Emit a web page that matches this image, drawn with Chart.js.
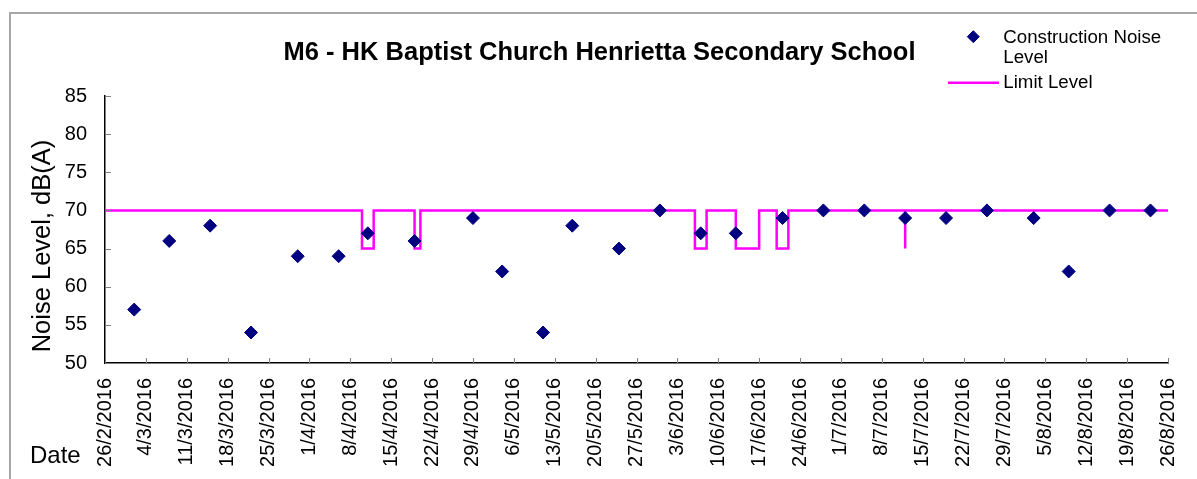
<!DOCTYPE html>
<html><head><meta charset="utf-8">
<script src="https://cdn.jsdelivr.net/npm/chart.js@4.4.0/dist/chart.umd.min.js"></script>
<style>html,body{margin:0;padding:0;background:#fff;overflow:hidden}canvas{display:block}</style>
</head><body>
<canvas id="c" width="1197" height="479"></canvas>
<script>
const titleText = 'M6 - HK Baptist Church Henrietta Secondary School';
const yAxisTitle = 'Noise Level, dB(A)';
const xAxisTitle = 'Date';
const seriesNames = ['Construction Noise', 'Level', 'Limit Level'];

const noiseDates = ['2/3/2016','8/3/2016','15/3/2016','22/3/2016','30/3/2016','6/4/2016','11/4/2016','19/4/2016',
  '29/4/2016','4/5/2016','11/5/2016','16/5/2016','24/5/2016','31/5/2016','7/6/2016','13/6/2016','21/6/2016',
  '28/6/2016','5/7/2016','12/7/2016','19/7/2016','26/7/2016','3/8/2016','9/8/2016','16/8/2016','23/8/2016'];
const noiseLevels = [57,66,68,54,64,64,67,66,69,62,54,68,65,70,67,67,69,70,70,69,69,70,69,62,70,70];

const limitDates = ['26/2/2016','10/4/2016','10/4/2016','12/4/2016','12/4/2016','19/4/2016','19/4/2016','20/4/2016','20/4/2016',
  '6/6/2016','6/6/2016','8/6/2016','8/6/2016','13/6/2016','13/6/2016','17/6/2016','17/6/2016',
  '20/6/2016','20/6/2016','22/6/2016','22/6/2016','12/7/2016','12/7/2016','12/7/2016','26/8/2016'];
const limitLevels = [70,70,65,65,70,70,65,65,70,70,65,65,70,70,65,65,70,70,65,65,70,70,65,70,70];

const tickDates = ['26/2/2016','4/3/2016','11/3/2016','18/3/2016','25/3/2016','1/4/2016','8/4/2016','15/4/2016',
  '22/4/2016','29/4/2016','6/5/2016','13/5/2016','20/5/2016','27/5/2016','3/6/2016','10/6/2016','17/6/2016',
  '24/6/2016','1/7/2016','8/7/2016','15/7/2016','22/7/2016','29/7/2016','5/8/2016','12/8/2016','19/8/2016','26/8/2016'];
const yMin = 50, yMax = 85, yStep = 5;

const FONT = "'Liberation Sans', Arial, sans-serif";
const ORIGIN = Date.UTC(2016, 1, 26);
function dayOf(s) { const [d, m, y] = s.split('/').map(Number); return (Date.UTC(y, m - 1, d) - ORIGIN) / 864e5; }
const labelByDay = {};
tickDates.forEach(s => { labelByDay[dayOf(s)] = s; });

const noiseData = noiseDates.map((s, i) => ({ x: dayOf(s), y: noiseLevels[i] }));
const limitData = limitDates.map((s, i) => ({ x: dayOf(s), y: limitLevels[i] }));

const extras = {
  id: 'extras',
  beforeDraw(chart) {
    const ctx = chart.ctx;
    ctx.save();
    ctx.strokeStyle = '#a6a6a6';
    ctx.lineWidth = 2;
    ctx.beginPath();
    ctx.moveTo(1197, 13); ctx.lineTo(10, 13); ctx.lineTo(10, 479);
    ctx.stroke();
    ctx.restore();
  },
  afterDraw(chart) {
    const ctx = chart.ctx;
    const xs = chart.scales.x, ys = chart.scales.y;
    const a = chart.chartArea;
    ctx.save();
    ctx.strokeStyle = '#808080';
    ctx.lineWidth = 1;
    ctx.beginPath();
    xs.ticks.forEach(t => {
      const px = Math.round(xs.getPixelForValue(t.value)) + 0.5;
      ctx.moveTo(px, a.bottom); ctx.lineTo(px, a.bottom - 5);
    });
    ys.ticks.forEach(t => {
      const py = Math.round(ys.getPixelForValue(t.value)) + 0.5;
      ctx.moveTo(a.left, py); ctx.lineTo(a.left + 6, py);
    });
    ctx.stroke();
    ctx.fillStyle = '#000';
    ctx.font = 'bold 25.5px ' + FONT;
    ctx.textAlign = 'center';
    ctx.textBaseline = 'alphabetic';
    ctx.fillText(titleText, 599.5, 60);
    ctx.save();
    ctx.font = '25.5px ' + FONT;
    ctx.translate(50, 246);
    ctx.rotate(-Math.PI / 2);
    ctx.fillText(yAxisTitle, 0, 0);
    ctx.restore();
    ctx.font = '24px ' + FONT;
    ctx.textAlign = 'left';
    ctx.fillText(xAxisTitle, 30, 462.7);
    const dx = 973.3, dy = 36.7, r = 6;
    ctx.fillStyle = '#000080';
    ctx.strokeStyle = '#000080';
    ctx.beginPath();
    ctx.moveTo(dx - r, dy); ctx.lineTo(dx, dy - r); ctx.lineTo(dx + r, dy); ctx.lineTo(dx, dy + r); ctx.closePath();
    ctx.fill(); ctx.stroke();
    ctx.strokeStyle = '#ff00ff';
    ctx.lineWidth = 2.5;
    ctx.beginPath(); ctx.moveTo(948, 82.7); ctx.lineTo(999, 82.7); ctx.stroke();
    ctx.fillStyle = '#000';
    ctx.font = '18.7px ' + FONT;
    ctx.fillText(seriesNames[0], 1003.3, 43.3);
    ctx.fillText(seriesNames[1], 1003.3, 63.3);
    ctx.fillText(seriesNames[2], 1003.3, 88.3);
    ctx.restore();
  }
};

new Chart(document.getElementById('c'), {
  type: 'scatter',
  data: {
    datasets: [
      { label: 'Construction Noise Level', data: noiseData, pointStyle: 'rectRot', pointRadius: 6.5, pointHoverRadius: 6.5,
        backgroundColor: '#000080', borderColor: '#000080', borderWidth: 1, showLine: false },
      { label: 'Limit Level', data: limitData, showLine: true, borderColor: '#ff00ff', backgroundColor: '#ff00ff',
        borderWidth: 2.5, pointRadius: 0, pointHoverRadius: 0, tension: 0, fill: false, clip: 4 }
    ]
  },
  options: {
    responsive: false,
    animation: false,
    devicePixelRatio: 1,
    layout: { padding: { top: 96, right: 29, left: 0, bottom: 0 } },
    plugins: { legend: { display: false }, title: { display: false }, tooltip: { enabled: false } },
    scales: {
      x: {
        type: 'linear', min: 0, max: dayOf(tickDates[tickDates.length - 1]),
        afterBuildTicks: s => { s.ticks = tickDates.map(d => ({ value: dayOf(d) })); },
        afterFit: s => { s.height = 116; s.paddingLeft = 0; s.paddingRight = 0; },
        grid: { display: false, drawTicks: false },
        border: { display: true, color: '#000', width: 1.5 },
        ticks: { autoSkip: false, maxRotation: 90, minRotation: 90, padding: 15, color: '#000',
          font: { family: FONT, size: 20 }, callback: v => labelByDay[v] || '' }
      },
      y: {
        min: yMin, max: yMax,
        afterFit: s => { s.width = 105; s.paddingTop = 0; s.paddingBottom = 0; },
        grid: { display: false, drawTicks: false },
        border: { display: true, color: '#000', width: 1.5 },
        ticks: { stepSize: yStep, padding: 18, color: '#000', font: { family: FONT, size: 20 } }
      }
    }
  },
  plugins: [extras]
});
</script>
</body></html>
